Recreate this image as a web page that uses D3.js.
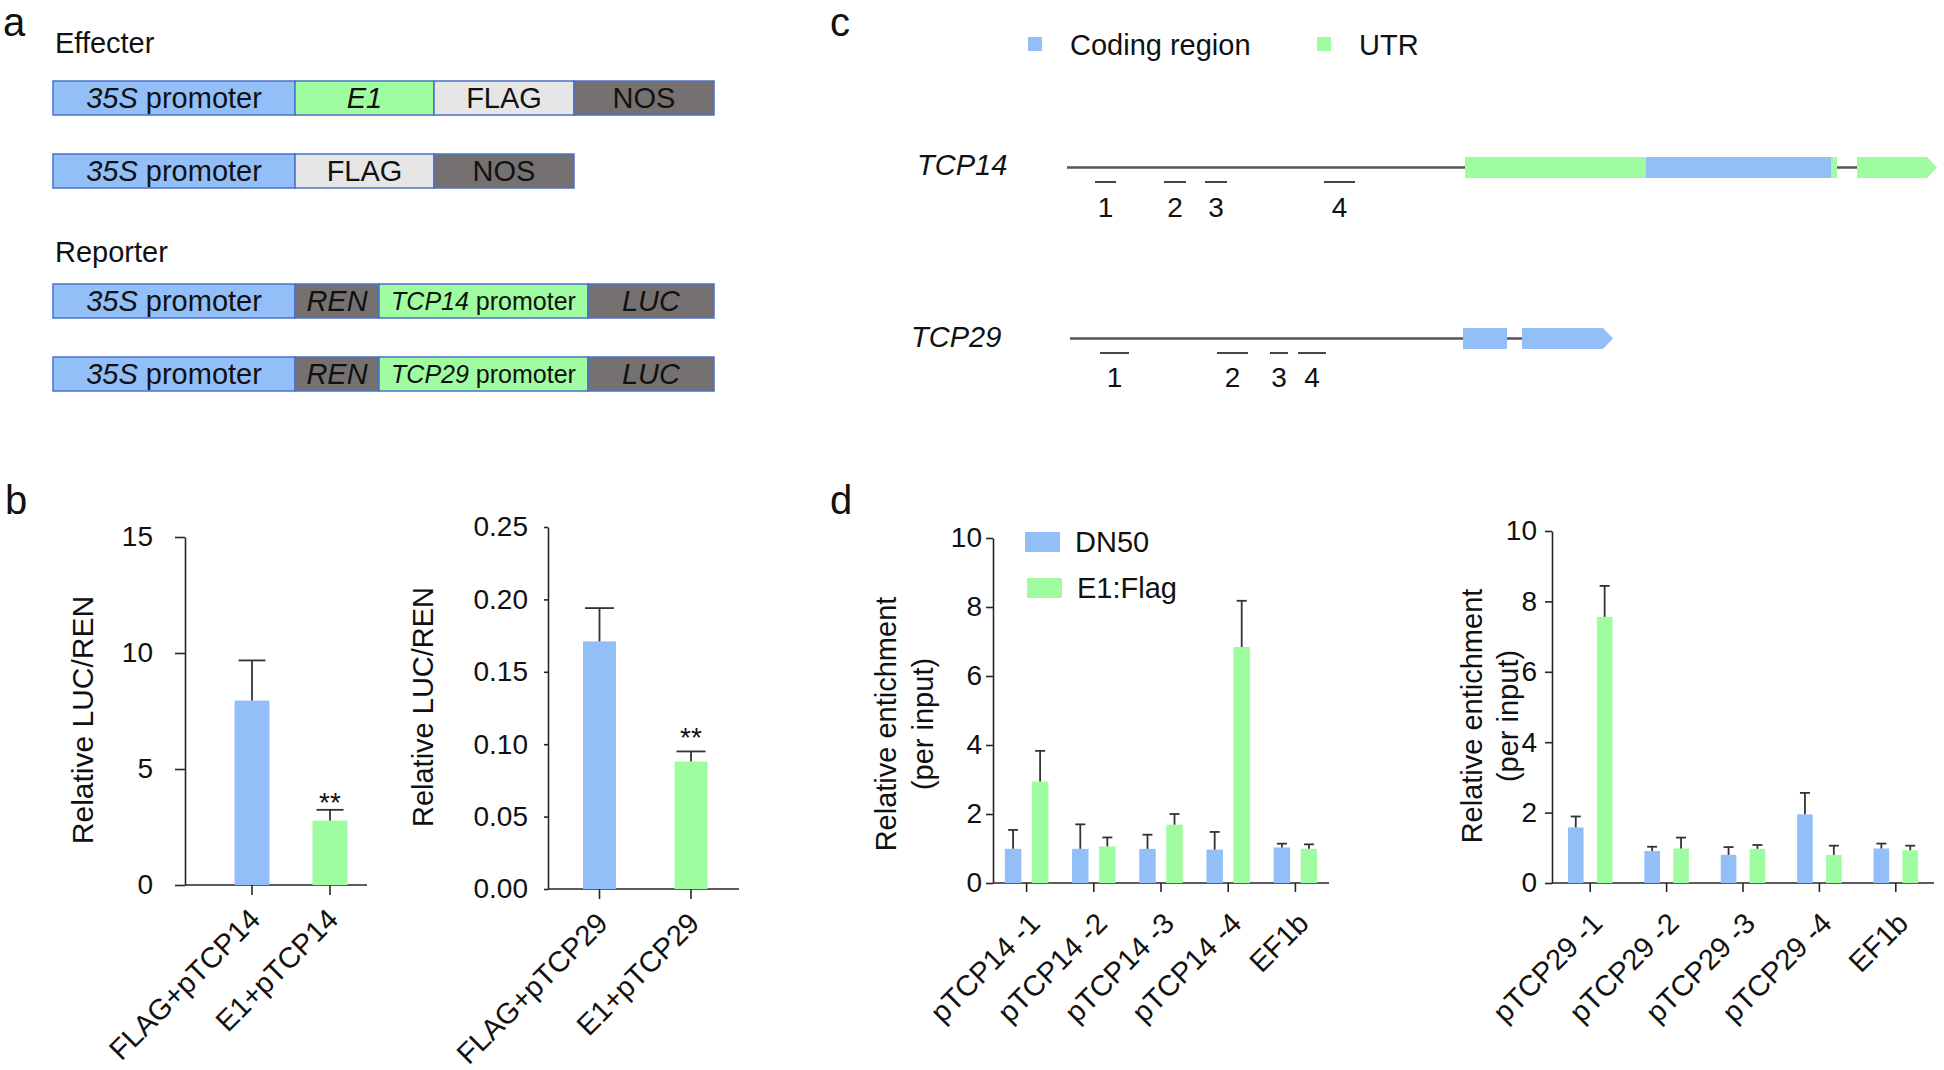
<!DOCTYPE html>
<html><head><meta charset="utf-8">
<script src="https://cdn.jsdelivr.net/npm/d3@7"></script>
<style>
body{margin:0;background:#fff;}
svg{display:block;font-family:"Liberation Sans",Arial,Helvetica,sans-serif;}
text{white-space:pre;}
</style></head><body>
<svg id="fig" width="1944" height="1070"></svg>
<script>
// ================= DATA =================
// Panel a : constructs (italic part, plain part, kind, relative length)
const effecterE1   = [["35S"," promoter","blue",242],["E1","","green",139],["","FLAG","light",140],["","NOS","dark",140]];
const effecterFLAG = [["35S"," promoter","blue",242],["","FLAG","light",139],["","NOS","dark",140]];
const reporter14   = [["35S"," promoter","blue",242],["REN","","dark",84],["TCP14"," promoter","green",209],["LUC","","dark",126]];
const reporter29   = [["35S"," promoter","blue",242],["REN","","dark",84],["TCP29"," promoter","green",209],["LUC","","dark",126]];
const sectionTitles = ["Effecter","Reporter"];

// Panel b : dual luciferase
const bCats14 = ["FLAG+pTCP14","E1+pTCP14"];
const bMean14 = [7.95, 2.78];
const bErr14  = [9.68, 3.24];
const bTicks14 = [0,5,10,15];
const bCats29 = ["FLAG+pTCP29","E1+pTCP29"];
const bMean29 = [0.171, 0.088];
const bErr29  = [0.194, 0.095];
const bTicks29 = [0,0.05,0.10,0.15,0.20,0.25];
const bSig = ["","**"];

// Panel c : gene models (relative coordinates)
const legendC = [["Coding region","cds"],["UTR","utr"]];
const tcp14Line  = [0,790];
const tcp14Feats = [["utr",398,579],["cds",579,764],["utr",764,770],["utrArrow",790,870]];
const tcp14Primers = [[28,49],[97,119],[138,160],[257,288]];
const tcp29Line  = [3,455];
const tcp29Feats = [["cds",396,440],["cdsArrow",455,546]];
const tcp29Primers = [[33,62],[150,181],[203,221],[231,259]];
const primerNames = ["1","2","3","4"];

// Panel d : ChIP-qPCR
const series = ["DN50","E1:Flag"];
const dCats14 = ["pTCP14 -1","pTCP14 -2","pTCP14 -3","pTCP14 -4","EF1b"];
const dn50_14 = [0.99,0.99,0.99,0.97,1.03];
const dn50_14err = [1.54,1.70,1.40,1.48,1.14];
const e1_14 = [2.94,1.06,1.69,6.84,0.99];
const e1_14err = [3.83,1.32,2.00,8.18,1.12];
const dCats29 = ["pTCP29 -1","pTCP29 -2","pTCP29 -3","pTCP29 -4","EF1b"];
const dn50_29 = [1.58,0.91,0.80,1.95,0.98];
const dn50_29err = [1.89,1.03,1.02,2.56,1.12];
const e1_29 = [7.56,0.98,0.97,0.80,0.93];
const e1_29err = [8.44,1.29,1.08,1.06,1.06];
const dTicks = [0,2,4,6,8,10];

// ================= STYLE =================
const COL = {blue:"#92BFF8", green:"#A0FCA0", light:"#E7E6E6", dark:"#767171",
             border:"#4A72C6", axis:"#262626", gline:"#555555", cds:"#92BFF8", utr:"#A0FCA0"};
const svg = d3.select("#fig");

// panel letters
[["a",3,36],["b",5,514],["c",830,36],["d",830,514]].forEach(([t,x,y])=>{
  svg.append("text").attr("x",x).attr("y",y).attr("font-size",40).attr("fill","#111").text(t);
});

// ================= PANEL A =================
const aX = d3.scaleLinear().domain([0,661]).range([53,714]);
const aRows = [[effecterE1,81],[effecterFLAG,154],[reporter14,284],[reporter29,357]];
const aH = 34;
svg.append("text").attr("x",55).attr("y",53).attr("font-size",29).attr("fill","#111").text(sectionTitles[0]);
svg.append("text").attr("x",55).attr("y",262).attr("font-size",29).attr("fill","#111").text(sectionTitles[1]);
aRows.forEach(([segs,y])=>{
  let acc = 0;
  segs.forEach(([it,tx,kind,len])=>{
    const x0 = aX(acc), x1 = aX(acc+len); acc += len;
    svg.append("rect").attr("x",x0).attr("y",y).attr("width",x1-x0).attr("height",aH)
      .attr("fill",COL[kind]).attr("stroke",COL.border).attr("stroke-width",1.5);
    const small = it.startsWith("TCP");
    const t = svg.append("text").attr("x",(x0+x1)/2).attr("y",y+aH/2+(small?9:10))
      .attr("text-anchor","middle").attr("font-size",small?25:29).attr("fill","#111");
    if(it) t.append("tspan").attr("font-style","italic").text(it);
    if(tx) t.append("tspan").text(tx);
  });
});

// ================= PANEL C =================
const cX = d3.scaleLinear().domain([0,870]).range([1067,1937]);
legendC.forEach(([name,kind],i)=>{
  const lx = [1028,1317][i];
  svg.append("rect").attr("x",lx).attr("y",37).attr("width",14).attr("height",14).attr("fill",COL[kind]);
  svg.append("text").attr("x",lx+42).attr("y",55).attr("font-size",29).attr("fill","#111").text(name);
});
function gene(name, line, feats, primers, L){
  svg.append("text").attr("x",L.lx).attr("y",L.ly).attr("font-size",29).attr("font-style","italic").attr("fill","#111").text(name);
  svg.append("line").attr("x1",cX(line[0])).attr("x2",cX(line[1])).attr("y1",L.yc).attr("y2",L.yc)
    .attr("stroke",COL.gline).attr("stroke-width",2.4);
  const h = 21, yt = L.yc-10.5, yb = L.yc+10.5;
  feats.forEach(([kind,s,e])=>{
    const x0 = cX(s), x1 = cX(e);
    const k = kind.replace("Arrow","");
    if(kind.endsWith("Arrow")){
      svg.append("path").attr("d",`M${x0},${yt}H${x1-10}L${x1},${L.yc}L${x1-10},${yb}H${x0}Z`).attr("fill",COL[k]);
    } else {
      svg.append("rect").attr("x",x0).attr("y",yt).attr("width",x1-x0).attr("height",h).attr("fill",COL[k]);
    }
  });
  primers.forEach(([s,e],i)=>{
    svg.append("line").attr("x1",cX(s)).attr("x2",cX(e)).attr("y1",L.py).attr("y2",L.py)
      .attr("stroke","#333").attr("stroke-width",1.8);
    svg.append("text").attr("x",(cX(s)+cX(e))/2).attr("y",L.ny).attr("text-anchor","middle")
      .attr("font-size",28).attr("fill","#111").text(primerNames[i]);
  });
}
gene("TCP14", tcp14Line, tcp14Feats, tcp14Primers, {lx:917, ly:175, yc:167.5, py:182, ny:217});
gene("TCP29", tcp29Line, tcp29Feats, tcp29Primers, {lx:911, ly:347, yc:338.5, py:353, ny:387});

// ================= BAR CHART HELPER =================
function barChart(o){
  const g = svg.append("g");
  const y = d3.scaleLinear().domain([0,o.yMax]).range([o.y0,o.y1]);
  const x = d3.scaleBand().domain(o.cats).range(o.band);
  const x1 = d3.scaleBand().domain(d3.range(o.values.length)).range([-o.grp/2,o.grp/2]).paddingInner(o.gap);
  // y axis
  const ya = g.append("g").attr("transform",`translate(${o.ax},0)`)
    .call(d3.axisLeft(y).tickValues(o.ticks).tickFormat(o.fmt).tickSize(o.tick).tickPadding(o.pad).tickSizeOuter(0));
  ya.select(".domain").attr("stroke",COL.axis).attr("stroke-width",1.6);
  ya.selectAll(".tick line").attr("stroke",COL.axis).attr("stroke-width",1.6);
  ya.selectAll(".tick text").attr("font-size",28).attr("fill","#111").attr("font-family",null);
  // x axis
  const xa = g.append("g").attr("transform",`translate(0,${o.y0})`)
    .call(d3.axisBottom(x).tickSize(o.xtick).tickSizeOuter(0).tickFormat(""));
  xa.select(".domain").remove();
  xa.selectAll(".tick line").attr("stroke",COL.axis).attr("stroke-width",1.6);
  g.append("line").attr("x1",o.ax).attr("x2",o.axEnd).attr("y1",o.y0).attr("y2",o.y0)
    .attr("stroke",COL.axis).attr("stroke-width",1.6);
  // bars
  o.values.forEach((vals,si)=>{
    vals.forEach((v,ci)=>{
      const cx = x(o.cats[ci]) + x.bandwidth()/2 + x1(si) + x1.bandwidth()/2;
      const bw = x1.bandwidth();
      const col = o.colorByCat ? o.colors[ci] : o.colors[si];
      g.append("rect").attr("x",cx-bw/2).attr("y",y(v)).attr("width",bw).attr("height",o.y0-y(v)).attr("fill",col);
      const ev = o.errs[si][ci];
      g.append("line").attr("x1",cx).attr("x2",cx).attr("y1",y(v)).attr("y2",y(ev)).attr("stroke","#333").attr("stroke-width",1.8);
      g.append("line").attr("x1",cx-o.cap/2).attr("x2",cx+o.cap/2).attr("y1",y(ev)).attr("y2",y(ev)).attr("stroke","#333").attr("stroke-width",1.8);
      if(o.sig && o.sig[ci]){
        g.append("text").attr("x",cx).attr("y",y(ev)+o.sigDy).attr("text-anchor","middle")
          .attr("font-size",28).attr("fill","#111").text(o.sig[ci]);
      }
    });
  });
  // x labels
  o.cats.forEach(c=>{
    const cx = x(c)+x.bandwidth()/2;
    g.append("text").attr("transform",`translate(${cx+o.ldx},${o.y0+o.ldy}) rotate(-45)`)
      .attr("text-anchor","end").attr("font-size",29).attr("fill","#111").text(c);
  });
  // y title (tx = baseline position)
  o.title.forEach((t,i)=>{
    g.append("text").attr("transform",`translate(${o.tx[i]},${o.ty}) rotate(-90)`)
      .attr("text-anchor","middle").attr("font-size",o.tfs).attr("fill","#111").text(t);
  });
  return {x,y};
}

// ================= PANEL B =================
barChart({cats:bCats14, values:[bMean14], errs:[bErr14], colorByCat:true, colors:[COL.blue,COL.green],
  yMax:15, ticks:bTicks14, fmt:d3.format("d"), y0:885, y1:537, ax:185, axEnd:367, band:[213,369],
  grp:35, gap:0, tick:10, pad:22, xtick:10, cap:27, sig:bSig, sigDy:2,
  ldx:10, ldy:36, title:["Relative LUC/REN"], tx:[93], ty:720, tfs:30});
barChart({cats:bCats29, values:[bMean29], errs:[bErr29], colorByCat:true, colors:[COL.blue,COL.green],
  yMax:0.25, ticks:bTicks29, fmt:d3.format(".2f"), y0:889, y1:527, ax:548, axEnd:739, band:[553.75,736.75],
  grp:33, gap:0, tick:4, pad:16, xtick:10, cap:29, sig:bSig, sigDy:-4,
  ldx:10, ldy:36, title:["Relative LUC/REN"], tx:[433], ty:707, tfs:29});

// ================= PANEL D =================
barChart({cats:dCats14, values:[dn50_14,e1_14], errs:[dn50_14err,e1_14err], colors:[COL.blue,COL.green],
  yMax:10, ticks:dTicks, fmt:d3.format("d"), y0:883, y1:538, ax:993, axEnd:1329, band:[993,1329],
  grp:43.5, gap:0.39, tick:7, pad:4, xtick:9, cap:10,
  ldx:15, ldy:42, title:["Relative entichment","(per input)"], tx:[896,933], ty:724, tfs:29});
barChart({cats:dCats29, values:[dn50_29,e1_29], errs:[dn50_29err,e1_29err], colors:[COL.blue,COL.green],
  yMax:10, ticks:dTicks, fmt:d3.format("d"), y0:883, y1:531, ax:1552, axEnd:1934, band:[1552,1934],
  grp:44.5, gap:0.46, tick:7, pad:8, xtick:9, cap:10,
  ldx:14, ldy:42, title:["Relative entichment","(per input)"], tx:[1482,1518], ty:716, tfs:29});

// legend d
series.forEach((s,i)=>{
  const ly = [532,578][i], lx = [1025,1027][i];
  svg.append("rect").attr("x",lx).attr("y",ly).attr("width",35).attr("height",20).attr("fill",[COL.blue,COL.green][i]);
  svg.append("text").attr("x",lx+50).attr("y",ly+20).attr("font-size",29).attr("fill","#111").text(s);
});
</script>
</body></html>
